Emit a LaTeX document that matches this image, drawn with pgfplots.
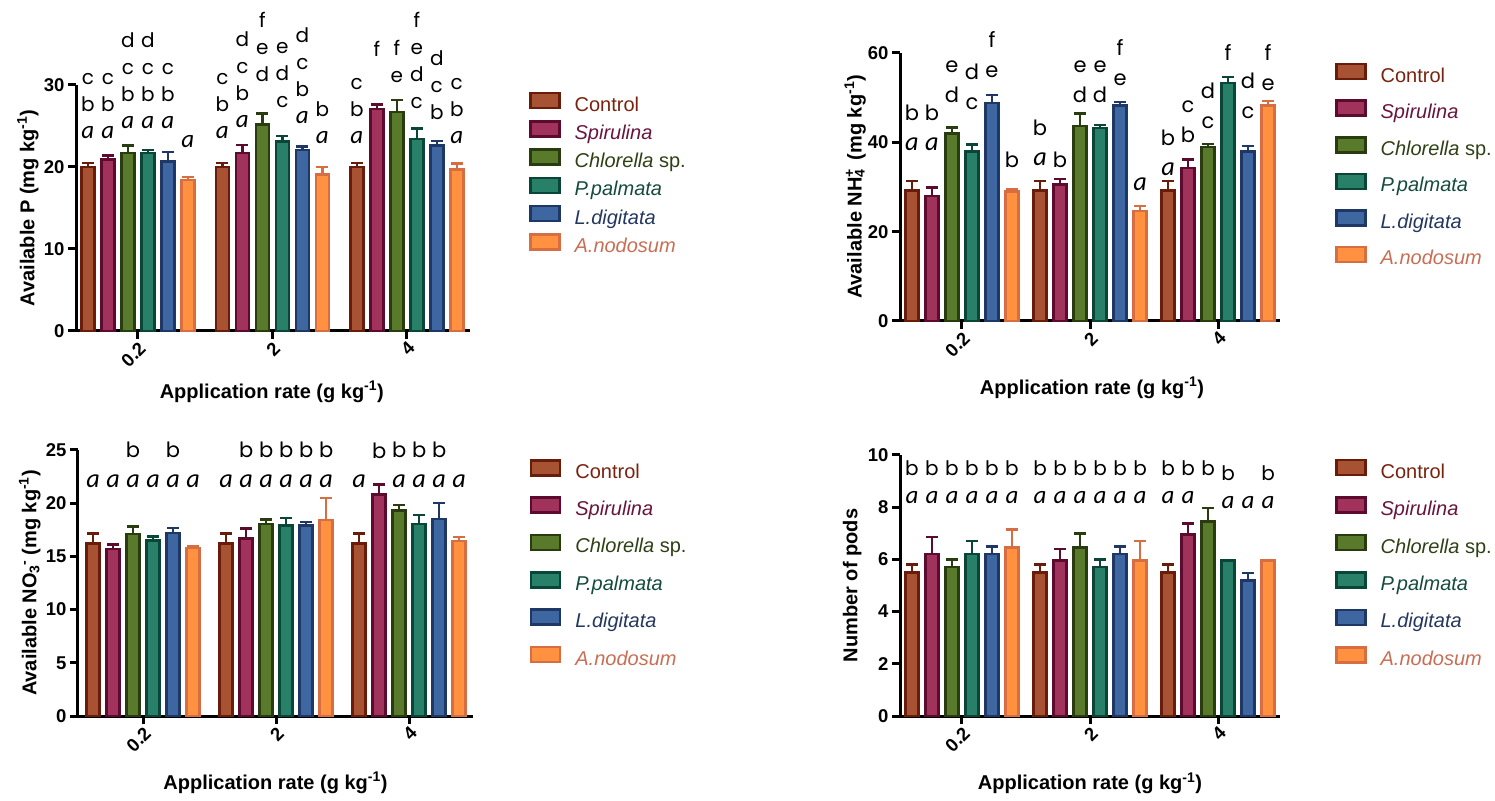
\documentclass[border=0pt]{standalone}
\usepackage{pgfplots}
\pgfplotsset{compat=1.18}
\usepackage{pgfplotstable}
\usepackage{fontspec}
\setmainfont{Liberation Sans}
\newfontfamily\letfont{Poppins}
\newfontfamily\afont{Carlito}[Scale=1.25]
\newcommand\A{{\afont\itshape a}}

\definecolor{cCf}{RGB}{168,82,52}   \definecolor{cCd}{RGB}{105,28,10}
\definecolor{cSf}{RGB}{160,50,92}   \definecolor{cSd}{RGB}{92,10,45}
\definecolor{cHf}{RGB}{88,122,42}   \definecolor{cHd}{RGB}{40,60,15}
\definecolor{cPf}{RGB}{40,128,104}  \definecolor{cPd}{RGB}{10,70,55}
\definecolor{cLf}{RGB}{62,102,160}  \definecolor{cLd}{RGB}{30,55,100}
\definecolor{cAf}{RGB}{255,145,65}  \definecolor{cAd}{RGB}{215,110,65}
\definecolor{tC}{RGB}{120,35,15}
\definecolor{tS}{RGB}{105,20,60}
\definecolor{tH}{RGB}{45,65,20}
\definecolor{tP}{RGB}{20,75,60}
\definecolor{tL}{RGB}{35,55,95}
\definecolor{tA}{RGB}{200,110,85}

\pgfplotstableread{
x C Ce S Se H He P Pe L Le A Ae
0 20.0 0.5 20.9 0.5 21.7 0.9 21.7 0.4 20.7 1.1 18.4 0.4
1 20.0 0.5 21.7 1.0 25.2 1.3 23.1 0.7 22.1 0.4 19.1 0.9
2 20.0 0.5 27.1 0.5 26.7 1.5 23.4 1.3 22.6 0.6 19.7 0.7
}\tabP
\pgfplotstableread{
x C Ce S Se H He P Pe L Le A Ae
0 29.2 2.1 28.0 1.9 42.0 1.3 37.9 1.6 48.8 1.8 29.0 0.6
1 29.2 2.1 30.6 1.2 43.7 2.7 43.2 0.7 48.2 0.8 24.6 1.2
2 29.2 2.1 34.2 2.0 38.9 0.7 53.3 1.3 37.9 1.3 48.2 1.1
}\tabN
\pgfplotstableread{
x C Ce S Se H He P Pe L Le A Ae
0 16.2 0.95 15.7 0.4 17.1 0.7 16.5 0.35 17.2 0.45 15.8 0.15
1 16.2 0.95 16.7 0.94 18.05 0.43 17.9 0.72 17.9 0.31 18.4 2.1
2 16.2 0.95 20.8 0.94 19.3 0.53 18.05 0.84 18.5 1.53 16.45 0.35
}\tabO
\pgfplotstableread{
x C Ce S Se H He P Pe L Le A Ae
0 5.5 0.3 6.2 0.65 5.7 0.3 6.2 0.5 6.2 0.3 6.45 0.7
1 5.5 0.3 5.95 0.45 6.45 0.55 5.7 0.3 6.2 0.3 5.95 0.75
2 5.5 0.3 6.95 0.42 7.45 0.52 5.95 0 5.2 0.28 5.95 0
}\tabD

\newcommand\mkser[3]{\pgfplotsset{#1/.style={fill=#2, draw=#3, line width=2.5pt,
  error bars/y dir=plus, error bars/y explicit,
  error bars/error mark=|,
  error bars/error bar style={line width=2.5pt, draw=#3},
  error bars/error mark options={line width=2.5pt, draw=#3, mark size=6pt},
  legend image code/.code={\draw[fill=#2, draw=#3, line width=2.5pt] (0pt,-2pt) rectangle (29pt,13pt);}}}}
\mkser{sC}{cCf}{cCd}
\mkser{sS}{cSf}{cSd}
\mkser{sH}{cHf}{cHd}
\mkser{sP}{cPf}{cPd}
\mkser{sL}{cLf}{cLd}
\mkser{sA}{cAf}{cAd}

\pgfplotsset{
 panel/.style={
  scale only axis, ybar=7pt, bar width=13pt,
  axis x line*=bottom, axis y line*=left,
  axis line style={line width=3pt, black},
  every tick/.style={line width=3pt, black},
  major tick length=8pt, tick align=outside,
  minor tick num=0,
  xtick={0,1,2}, xticklabels={0.2,2,4},
  xticklabel style={rotate=45, anchor=north east, inner sep=1pt, font=\bfseries\fontsize{18.5}{20}\selectfont},
  yticklabel style={font=\bfseries\fontsize{18.5}{20}\selectfont},
  /pgf/number format/assume math mode=true,
  ymin=0, clip=false,
  xlabel={Application rate (g kg\textsuperscript{-1})},
  label style={font=\bfseries\fontsize{20}{24}\selectfont},
  legend cell align=left,
  legend style={draw=none, fill=none, inner sep=0pt, outer sep=0pt, anchor=north west,
    column sep=14pt, font=\fontsize{20}{24}\selectfont,
    nodes={inner sep=0pt, text height=15pt, text depth=5pt}},
 },
}
\tikzset{lt/.style={anchor=south, inner sep=0pt, align=center, font=\ltfont}}
\def\ltfont{\letfont\fontsize{20}{27}\selectfont}
\newcommand\Lt[4]{\node[lt, xshift=#2pt] at (axis cs:#1,#3) {#4};}
\newcommand\plotall[1]{%
  \addplot[sC] table[x=x, y=C, y error=Ce] {#1};
  \addplot[sS] table[x=x, y=S, y error=Se] {#1};
  \addplot[sH] table[x=x, y=H, y error=He] {#1};
  \addplot[sP] table[x=x, y=P, y error=Pe] {#1};
  \addplot[sL] table[x=x, y=L, y error=Le] {#1};
  \addplot[sA] table[x=x, y=A, y error=Ae] {#1};
  \addlegendentry{\textcolor{tC}{Control}}
  \addlegendentry{\textcolor{tS}{\textit{Spirulina}}}
  \addlegendentry{\textcolor{tH}{\textit{Chlorella} sp.}}
  \addlegendentry{\textcolor{tP}{\textit{P.palmata}}}
  \addlegendentry{\textcolor{tL}{\textit{L.digitata}}}
  \addlegendentry{\textcolor{tA}{\textit{A.nodosum}}}
}

\begin{document}
\begin{tikzpicture}[x=1pt,y=1pt]
\useasboundingbox (0,0) rectangle (1495,800);

% Panel 1: Available P
\def\ltfont{\letfont\fontsize{20}{27}\selectfont}
\begin{axis}[panel, at={(76pt,469pt)}, anchor=south west, width=394pt, height=246pt,
  xmin=-0.46, xmax=2.47, ymax=30, ytick={0,10,20,30},
  ylabel={Available P (mg kg\textsuperscript{-1})},
  ylabel style={at={(axis description cs:-0.122,0.5)}, anchor=center},
  xlabel style={at={(axis description cs:0.497,-0.248)}, anchor=center},
  legend style={at={(axis description cs:1.150,0.972)}, row sep=4pt}]
\plotall{\tabP}
\Lt{0}{-50}{23.4}{c\\b\\\A}
\Lt{0}{-30}{23.4}{c\\b\\\A}
\Lt{0}{-10}{24.6}{d\\c\\b\\\A}
\Lt{0}{10}{24.6}{d\\c\\b\\\A}
\Lt{0}{30}{24.6}{c\\b\\\A}
\Lt{0}{50}{22.3}{\A}
\Lt{1}{-50}{23.4}{c\\b\\\A}
\Lt{1}{-30}{24.8}{d\\c\\b\\\A}
\Lt{1}{-10}{30.4}{f\\e\\d}
\Lt{1}{10}{27.2}{e\\d\\c}
\Lt{1}{30}{25.2}{d\\c\\b\\\A}
\Lt{1}{50}{22.8}{b\\\A}
\Lt{2}{-50}{22.8}{c\\b\\\A}
\Lt{2}{-30}{33.4}{f}
\Lt{2}{-10}{30.2}{f\\e}
\Lt{2}{10}{27.1}{f\\e\\d\\c}
\Lt{2}{30}{25.7}{d\\c\\b}
\Lt{2}{50}{22.8}{c\\b\\\A}
\end{axis}

% Panel 2: Available NH4+
\def\ltfont{\letfont\fontsize{21}{30}\selectfont}
\begin{axis}[panel, at={(900pt,479pt)}, anchor=south west, width=380pt, height=268pt,
  xmin=-0.484, xmax=2.484, ymax=60, ytick={0,20,40,60},
  ylabel={Available NH\rlap{\textsubscript{4}}\textsuperscript{+}\kern0.15em{} (mg kg\textsuperscript{-1})},
  ylabel style={at={(axis description cs:-0.118,0.5)}, anchor=center},
  xlabel style={at={(axis description cs:0.505,-0.25)}, anchor=center},
  legend style={at={(axis description cs:1.145,0.963)}, row sep=12.3pt}]
\plotall{\tabN}
\Lt{0}{-50}{38.1}{b\\\A}
\Lt{0}{-30}{38.1}{b\\\A}
\Lt{0}{-10}{48.8}{e\\d}
\Lt{0}{10}{47.3}{d\\c}
\Lt{0}{30}{54.5}{f\\e}
\Lt{0}{50}{34.3}{b}
\Lt{1}{-50}{34.7}{b\\\A}
\Lt{1}{-30}{34.3}{b}
\Lt{1}{-10}{48.8}{e\\d}
\Lt{1}{10}{48.8}{e\\d}
\Lt{1}{30}{52.7}{f\\e}
\Lt{1}{50}{29.1}{\A}
\Lt{2}{-50}{32.5}{b\\\A}
\Lt{2}{-30}{39.9}{c\\b}
\Lt{2}{-10}{43.0}{d\\c}
\Lt{2}{10}{58.3}{f}
\Lt{2}{30}{45.3}{d\\c}
\Lt{2}{50}{51.5}{f\\e}
\end{axis}

% Panel 3: Available NO3-
\def\ltfont{\letfont\fontsize{21}{30}\selectfont}
\begin{axis}[panel, at={(78pt,84pt)}, anchor=south west, width=395pt, height=266pt,
  xmin=-0.489, xmax=2.48, ymax=25, ytick={0,5,10,15,20,25},
  ylabel={Available NO\textsubscript{3}\kern-0.05em\textsuperscript{-} (mg kg\textsuperscript{-1})},
  ylabel style={at={(axis description cs:-0.122,0.5)}, anchor=center},
  xlabel style={at={(axis description cs:0.5,-0.252)}, anchor=center},
  legend style={at={(axis description cs:1.144,0.966)}, row sep=13.1pt}]
\plotall{\tabO}
\Lt{0}{-50}{21.4}{\A}
\Lt{0}{-30}{21.4}{\A}
\Lt{0}{-10}{21.4}{b\\\A}
\Lt{0}{10}{21.4}{\A}
\Lt{0}{30}{21.4}{b\\\A}
\Lt{0}{50}{21.4}{\A}
\Lt{1}{-50}{21.4}{\A}
\Lt{1}{-30}{21.4}{b\\\A}
\Lt{1}{-10}{21.4}{b\\\A}
\Lt{1}{10}{21.4}{b\\\A}
\Lt{1}{30}{21.4}{b\\\A}
\Lt{1}{50}{21.4}{b\\\A}
\Lt{2}{-50}{21.4}{\A}
\Lt{2}{-30}{24.2}{b}
\Lt{2}{-10}{21.4}{b\\\A}
\Lt{2}{10}{21.4}{b\\\A}
\Lt{2}{30}{21.4}{b\\\A}
\Lt{2}{50}{21.4}{\A}
\end{axis}

% Panel 4: Number of pods
\def\ltfont{\letfont\fontsize{20}{28}\selectfont}
\begin{axis}[panel, at={(900pt,84pt)}, anchor=south west, width=380pt, height=261pt,
  xmin=-0.484, xmax=2.484, ymax=10, ytick={0,2,4,6,8,10},
  ylabel={Number of pods},
  ylabel style={at={(axis description cs:-0.126,0.5)}, anchor=center},
  xlabel style={at={(axis description cs:0.5,-0.257)}, anchor=center},
  legend style={at={(axis description cs:1.145,0.985)}, row sep=13.2pt}]
\plotall{\tabD}
\Lt{0}{-50}{8.12}{b\\\A}
\Lt{0}{-30}{8.12}{b\\\A}
\Lt{0}{-10}{8.12}{b\\\A}
\Lt{0}{10}{8.12}{b\\\A}
\Lt{0}{30}{8.12}{b\\\A}
\Lt{0}{50}{8.12}{b\\\A}
\Lt{1}{-50}{8.12}{b\\\A}
\Lt{1}{-30}{8.12}{b\\\A}
\Lt{1}{-10}{8.12}{b\\\A}
\Lt{1}{10}{8.12}{b\\\A}
\Lt{1}{30}{8.12}{b\\\A}
\Lt{1}{50}{8.12}{b\\\A}
\Lt{2}{-50}{8.12}{b\\\A}
\Lt{2}{-30}{8.12}{b\\\A}
\Lt{2}{-10}{9.19}{b}
\Lt{2}{10}{7.95}{b\\\A}
\Lt{2}{30}{7.95}{\A}
\Lt{2}{50}{7.95}{b\\\A}
\end{axis}
\end{tikzpicture}
\end{document}
